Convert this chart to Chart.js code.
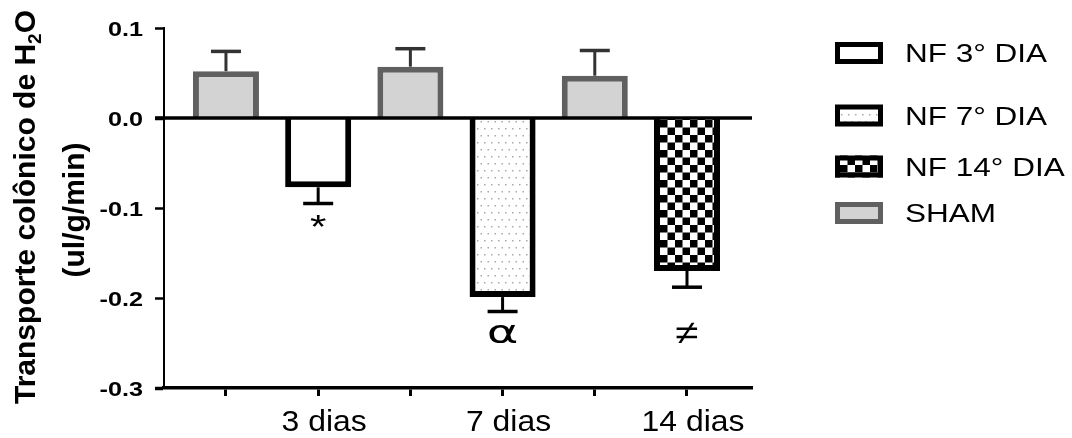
<!DOCTYPE html>
<html>
<head>
<meta charset="utf-8">
<script src="https://cdn.jsdelivr.net/npm/chart.js@4.4.1/dist/chart.umd.min.js"></script>
<style>
  html, body { margin: 0; padding: 0; background: #fff; }
  #wrap { width: 1072px; height: 438px; position: relative; }
</style>
</head>
<body>
<div id="wrap"><canvas id="chart"></canvas></div>
<script>
// ---- data ----
// x positions 1..6: SHAM / NF pairs; only the NF positions carry a label
const xTickLabels = ['', '3 dias', '', '7 dias', '', '14 dias'];
const yTickValues = [0.1, 0.0, -0.1, -0.2, -0.3];
const yTickLabels = ['0.1', '0.0', '-0.1', '-0.2', '-0.3'];
const nfNames = ['NF 3° DIA', 'NF 7° DIA', 'NF 14° DIA'];
const shamName = 'SHAM';
const nfMeans = [-0.077, -0.199, -0.170];
const nfSem = [0.018, 0.016, 0.018];
const shamMeans = [0.052, 0.057, 0.047];
const shamSem = [0.022, 0.020, 0.028];
const sigMarks = ['*', 'α', '≠'];
const sigMarkValues = [-0.114, -0.240, -0.239];
const yTitleMain = 'Transporte colônico de H';
const yTitleSub = '2';
const yTitleEnd = 'O';
const yTitleUnits = '(ul/g/min)';

const FONT = '"Liberation Sans", Arial, Helvetica, sans-serif';

// glyph styles for the significance marks
const markStyles = {
  '*': { font: `34px ${FONT}`, sx: 1.24 },
  'α': { font: '32px "DejaVu Sans", sans-serif', sx: 1.5 },
  '≠': { font: `34px ${FONT}`, sx: 1.24 }
};

// ---- fill patterns ----
const canvas = document.getElementById('chart');
const mainCtx = canvas.getContext('2d');

function makeTile(w, h, paint) {
  const c = document.createElement('canvas');
  c.width = w; c.height = h;
  const g = c.getContext('2d');
  paint(g, w, h);
  return mainCtx.createPattern(c, 'repeat');
}
const dotPattern = makeTile(7, 14, (g, w, h) => {
  g.fillStyle = '#ffffff'; g.fillRect(0, 0, w, h);
  g.fillStyle = '#a8a8a8';
  g.fillRect(1, 2, 1.5, 1.5);
  g.fillRect(4.5, 9, 1.5, 1.5);
});
const checkerPattern = makeTile(15, 15, (g, w, h) => {
  g.fillStyle = '#ffffff'; g.fillRect(0, 0, w, h);
  g.fillStyle = '#000000';
  g.fillRect(0, 0, 7.5, 7.5);
  g.fillRect(7.5, 7.5, 7.5, 7.5);
});
const nfFills = ['#ffffff', dotPattern, checkerPattern];

// ---- datasets ----
const datasets = nfNames.map((name, i) => ({
  label: name,
  data: [{ x: 2 * i + 2, y: nfMeans[i] }],
  errors: [nfSem[i]],
  errorColor: '#000000',
  marks: [{ text: sigMarks[i], value: sigMarkValues[i] }],
  backgroundColor: nfFills[i],
  borderColor: '#000000',
  borderWidth: 6
}));
datasets.push({
  label: shamName,
  data: shamMeans.map((v, i) => ({ x: 2 * i + 1, y: v })),
  errors: shamSem,
  errorColor: '#333333',
  marks: [],
  backgroundColor: '#d3d3d3',
  borderColor: '#606060',
  borderWidth: 6
});

// ---- text helpers ----
function stretchText(ctx, str, x, y, font, sx, align) {
  ctx.save();
  ctx.font = font;
  ctx.textAlign = 'left';
  ctx.textBaseline = 'alphabetic';
  const w = ctx.measureText(str).width * sx;
  const left = align === 'center' ? x - w / 2 : (align === 'right' ? x - w : x);
  ctx.translate(left, y);
  ctx.scale(sx, 1);
  ctx.fillText(str, 0, 0);
  ctx.restore();
}
function glyphCentered(ctx, str, cx, cy, font, sx) {
  ctx.save();
  ctx.font = font;
  ctx.textAlign = 'left';
  ctx.textBaseline = 'alphabetic';
  const m = ctx.measureText(str);
  const x0 = (m.actualBoundingBoxLeft - m.actualBoundingBoxRight) / 2;
  const y0 = (m.actualBoundingBoxAscent - m.actualBoundingBoxDescent) / 2;
  ctx.translate(cx, cy);
  ctx.scale(sx, 1);
  ctx.fillText(str, x0, y0);
  ctx.restore();
}

// ---- plugin: zero line, error bars, significance marks, labels, legend ----
const decorations = {
  id: 'decorations',
  afterDatasetsDraw(chart) {
    const { ctx, chartArea: area, scales: { x, y } } = chart;
    ctx.save();
    ctx.fillStyle = '#000';

    // error bars (one-sided, away from zero)
    chart.data.datasets.forEach((ds, di) => {
      const meta = chart.getDatasetMeta(di);
      meta.data.forEach((bar, i) => {
        const v = ds.data[i].y;
        const end = v + Math.sign(v) * ds.errors[i];
        const yEnd = y.getPixelForValue(end);
        ctx.strokeStyle = ds.errorColor;
        ctx.lineWidth = 3;
        ctx.beginPath();
        ctx.moveTo(bar.x, bar.y);
        ctx.lineTo(bar.x, yEnd);
        ctx.stroke();
        ctx.lineWidth = 3.5;
        ctx.beginPath();
        ctx.moveTo(bar.x - 15, yEnd);
        ctx.lineTo(bar.x + 15, yEnd);
        ctx.stroke();
      });
      ds.marks.forEach((mk, i) => {
        const bar = meta.data[i];
        const st = markStyles[mk.text];
        glyphCentered(ctx, mk.text, bar.x, y.getPixelForValue(mk.value), st.font, st.sx);
      });
    });

    // zero line across the plot
    const y0 = y.getPixelForValue(0);
    ctx.strokeStyle = '#000';
    ctx.lineWidth = 3.5;
    ctx.beginPath();
    ctx.moveTo(area.left - 9, y0);
    ctx.lineTo(area.right, y0);
    ctx.stroke();

    // y tick labels
    y.ticks.forEach((t, i) => {
      const py = y.getPixelForValue(t.value);
      stretchText(ctx, yTickLabels[i], area.left - 21, py + 7.6, `bold 21px ${FONT}`, 1.2, 'right');
    });

    // x tick labels
    x.ticks.forEach(t => {
      const label = xTickLabels[Math.round(t.value) - 1];
      if (!label) return;
      stretchText(ctx, label, x.getPixelForValue(t.value) + 6, area.bottom + 43, `29px ${FONT}`, 1.1, 'center');
    });

    // y axis title (two rotated lines)
    const cy = (area.top + area.bottom) / 2;
    const titleFont = `bold 30px ${FONT}`;
    const subFont = `bold 19px ${FONT}`;
    ctx.save();
    ctx.translate(35, cy - 1);
    ctx.rotate(-Math.PI / 2);
    ctx.textAlign = 'left';
    ctx.textBaseline = 'alphabetic';
    ctx.font = titleFont;
    const w1 = ctx.measureText(yTitleMain).width;
    const w3 = ctx.measureText(yTitleEnd).width;
    ctx.font = subFont;
    const w2 = ctx.measureText(yTitleSub).width;
    let px = -(w1 + w2 + w3) / 2;
    ctx.font = titleFont; ctx.fillText(yTitleMain, px, 0); px += w1;
    ctx.font = subFont; ctx.fillText(yTitleSub, px, 6); px += w2;
    ctx.font = titleFont; ctx.fillText(yTitleEnd, px, 0);
    ctx.restore();
    ctx.save();
    ctx.translate(84, cy + 2);
    ctx.rotate(-Math.PI / 2);
    ctx.font = titleFont;
    ctx.textAlign = 'center';
    ctx.textBaseline = 'alphabetic';
    ctx.fillText(yTitleUnits, 0, 0);
    ctx.restore();

    // legend
    const rows = [53, 115.5, 166.5, 213];
    const boxX = 835, boxW = 48, boxH = 22, lw = 5;
    chart.data.datasets.forEach((ds, i) => {
      const cyRow = rows[i];
      const top = cyRow - boxH / 2;
      ctx.fillStyle = ds.backgroundColor;
      ctx.fillRect(boxX, top, boxW, boxH);
      ctx.strokeStyle = ds.borderColor;
      ctx.lineWidth = lw;
      ctx.strokeRect(boxX + lw / 2, top + lw / 2, boxW - lw, boxH - lw);
      ctx.fillStyle = '#000';
      stretchText(ctx, ds.label, 905, cyRow + 9, `25px ${FONT}`, 1.26, 'left');
    });
    ctx.restore();
  }
};

new Chart(canvas, {
  type: 'bar',
  data: { datasets },
  options: {
    responsive: true,
    maintainAspectRatio: false,
    animation: false,
    layout: { padding: { left: 155, right: 320, top: 28, bottom: 42 } },
    datasets: {
      bar: { grouped: false, categoryPercentage: 1, barPercentage: 0.716 }
    },
    plugins: { legend: { display: false }, tooltip: { enabled: false } },
    scales: {
      x: {
        type: 'linear',
        min: 0.328,
        max: 6.705,
        offset: false,
        ticks: { stepSize: 1, includeBounds: false, display: false },
        grid: { offset: false, drawOnChartArea: false, drawTicks: true, tickLength: 8, tickWidth: 3, tickColor: '#000' },
        border: { display: true, color: '#000', width: 3.5 }
      },
      y: {
        min: -0.3,
        max: 0.1,
        afterBuildTicks: (scale) => { scale.ticks = yTickValues.map(v => ({ value: v })); },
        ticks: { display: false },
        grid: {
          drawOnChartArea: false, drawTicks: true, tickLength: 9, tickColor: '#000',
          tickWidth: (c) => (c.tick && (c.tick.value === 0 || c.tick.value === -0.3)) ? 3.5 : 2.5
        },
        border: { display: true, color: '#000', width: 2 }
      }
    }
  },
  plugins: [decorations]
});
</script>
</body>
</html>
